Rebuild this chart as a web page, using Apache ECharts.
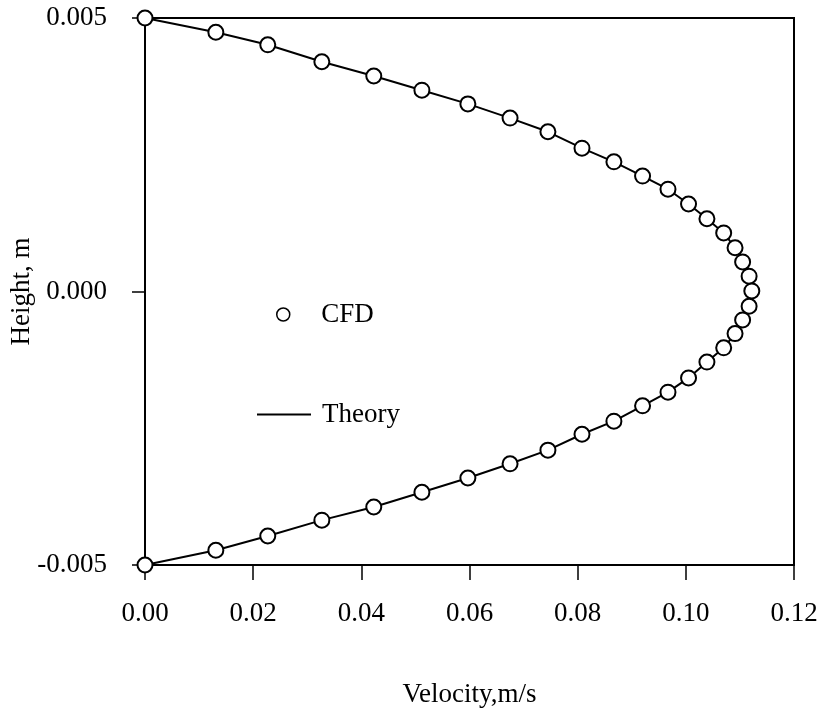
<!DOCTYPE html>
<html>
<head>
<meta charset="utf-8">
<script src="https://cdn.jsdelivr.net/npm/echarts@6/dist/echarts.min.js"></script>
<style>html,body{margin:0;padding:0;background:#fff}#c{width:818px;height:710px}</style>
</head>
<body>
<div id="c"></div>
<script>
// Velocity (m/s) and height (m)
const velocity = [0, 0.0131, 0.0227, 0.0327, 0.0423, 0.0512, 0.0597, 0.0675, 0.0745, 0.0808,
  0.0867, 0.0920, 0.0967, 0.1005, 0.1039, 0.1070, 0.1091, 0.1105, 0.1117, 0.1122,
  0.1117, 0.1105, 0.1091, 0.1070, 0.1039, 0.1005, 0.0967, 0.0920, 0.0867, 0.0808,
  0.0745, 0.0675, 0.0597, 0.0512, 0.0423, 0.0327, 0.0227, 0.0131, 0];
const height = [0.00500, 0.00474, 0.00451, 0.00420, 0.00394, 0.00368, 0.00343, 0.00317, 0.00292, 0.00262,
  0.00237, 0.00211, 0.00187, 0.00160, 0.00133, 0.00107, 0.00080, 0.00054, 0.00028, 0.00001,
  -0.00027, -0.00052, -0.00077, -0.00103, -0.00129, -0.00158, -0.00184, -0.00209, -0.00237, -0.00261,
  -0.00290, -0.00315, -0.00341, -0.00367, -0.00394, -0.00418, -0.00447, -0.00473, -0.00500];
const xTicks = [0, 0.02, 0.04, 0.06, 0.08, 0.10, 0.12];
const yTicks = [-0.005, 0.000, 0.005];

const pts = velocity.map((v, i) => [v, height[i]]);
const font = 'Liberation Serif';
const fs = 27;
const chart = echarts.init(document.getElementById('c'), null, {renderer: 'canvas'});
chart.setOption({
  animation: false,
  backgroundColor: '#fff',
  grid: {left: 145, top: 18, right: 24, bottom: 145, containLabel: false, outerBoundsMode: 'none',
    show: true, borderColor: '#000', borderWidth: 2, backgroundColor: 'transparent'},
  legend: [
    {
      orient: 'vertical', left: 276, top: 301, padding: 0, itemWidth: 54, itemHeight: 13,
      textStyle: {fontFamily: font, fontSize: fs, color: '#000', padding: [0, 0, 0, 6]},
      data: [{name: 'CFD', icon: 'circle', itemStyle: {color: '#fff', borderColor: '#000', borderWidth: 1.5}}]
    },
    {
      orient: 'vertical', left: 257, top: 401, padding: 0, itemWidth: 54, itemHeight: 2,
      textStyle: {fontFamily: font, fontSize: fs, color: '#000', padding: [0, 0, 0, 6]},
      data: [{name: 'Theory', icon: 'rect', itemStyle: {color: '#000', borderWidth: 0}}]
    }
  ],
  xAxis: {
    type: 'value', min: xTicks[0], max: xTicks[xTicks.length - 1], interval: 0.02,
    name: 'Velocity,m/s', nameLocation: 'middle', nameGap: 116, nameMoveOverlap: false,
    nameTextStyle: {fontFamily: font, fontSize: fs, color: '#000'},
    axisLine: {show: true, onZero: false, lineStyle: {color: '#000', width: 2}},
    axisTick: {show: true, length: 15, lineStyle: {color: '#000', width: 1.5}},
    axisLabel: {margin: 35, fontFamily: font, fontSize: fs, color: '#000', formatter: v => v.toFixed(2)},
    splitLine: {show: false}
  },
  yAxis: {
    type: 'value', min: yTicks[0], max: yTicks[yTicks.length - 1], interval: 0.005,
    name: 'Height, m', nameLocation: 'middle', nameGap: 110, nameMoveOverlap: false,
    nameTextStyle: {fontFamily: font, fontSize: fs, color: '#000'},
    axisLine: {show: true, onZero: false, lineStyle: {color: '#000', width: 2}},
    axisTick: {show: true, length: 13, lineStyle: {color: '#000', width: 1.5}},
    axisLabel: {margin: 38, fontFamily: font, fontSize: fs, color: '#000', formatter: v => v.toFixed(3)},
    splitLine: {show: false}
  },
  series: [
    {
      name: 'Theory', type: 'line', data: pts, showSymbol: false, symbol: 'none',
      lineStyle: {color: '#000', width: 2}, itemStyle: {color: '#000'}, z: 2
    },
    {
      name: 'CFD', type: 'scatter', data: pts, symbol: 'circle', symbolSize: 15,
      itemStyle: {color: '#fff', borderColor: '#000', borderWidth: 2, opacity: 1}, z: 3
    }
  ]
});
</script>
</body>
</html>
